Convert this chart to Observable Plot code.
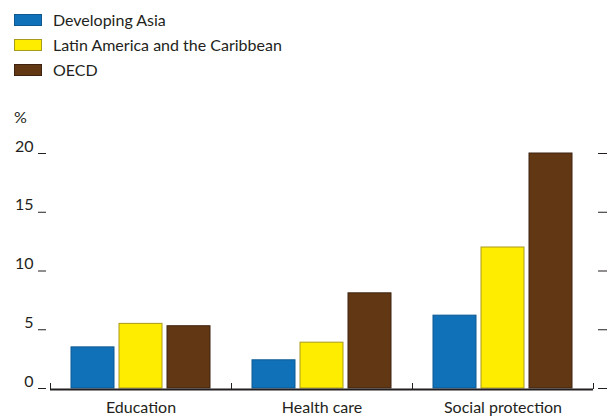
<!DOCTYPE html>
<html>
<head>
<meta charset="utf-8">
<script src="https://cdn.jsdelivr.net/npm/d3@7"></script>
<script src="https://cdn.jsdelivr.net/npm/@observablehq/plot@0.6"></script>
<style>
  body { margin: 0; background: #fff; font-family: Lato, "Open Sans", sans-serif; color: #231f20; }
  #legend { position: relative; height: 130px; width: 611px; }
  .row { position: absolute; left: 14px; display: flex; align-items: center; font-size: 16px; }
  .sw { width: 28px; height: 12px; margin-right: 11px; box-sizing: border-box; }
  #pct { position: absolute; left: 14px; top: 107px; font-size: 16px; }
</style>
</head>
<body>
<div id="legend"></div>
<div id="chart"></div>
<script>
const categories = ["Education", "Health care", "Social protection"];
const series = ["Developing Asia", "Latin America and the Caribbean", "OECD"];
const developingAsia = [3.5, 2.4, 6.2];
const latinAmerica = [5.5, 3.9, 12.0];
const oecd = [5.3, 8.1, 20.0];
const yTicks = [0, 5, 10, 15, 20];
const colors = ["#1071b9", "#ffed00", "#623814"];
const strokes = ["#0d5a92", "#a89a1c", "#3d2310"];

const valuesBySeries = [developingAsia, latinAmerica, oecd];
const data = [];
categories.forEach((c, i) => series.forEach((s, j) => data.push({category: c, series: s, value: valuesBySeries[j][i]})));

// Legend
const legend = document.getElementById("legend");
series.forEach((s, j) => {
  const row = document.createElement("div");
  row.className = "row";
  row.style.top = (10 + j * 25) + "px";
  row.innerHTML = `<div class="sw" style="background:${colors[j]};border:1px solid ${strokes[j]}"></div><span>${s}</span>`;
  legend.appendChild(row);
});
const pct = document.createElement("div");
pct.id = "pct"; pct.textContent = "%";
legend.appendChild(pct);

const chart = Plot.plot({
  width: 611,
  height: 287,
  marginTop: 23,
  marginBottom: 29,
  marginLeft: 50,
  marginRight: 18,
  style: {fontFamily: "Lato, 'Open Sans', sans-serif", fontSize: "16px", color: "#231f20"},
  fx: {domain: categories, padding: 0, label: null},
  x: {domain: series, paddingInner: 0.094, paddingOuter: 0.43, axis: null},
  y: {domain: [0, 20], axis: null},
  color: {domain: series, range: colors},
  marks: [
    Plot.barY(data, {fx: "category", x: "series", y: "value", fill: "series",
      stroke: d => strokes[series.indexOf(d.series)], strokeWidth: 1}),
    Plot.ruleY([0], {stroke: "#231f20", strokeWidth: 2, dy: 1}),
    Plot.frame({anchor: "left", insetTop: 230, stroke: "#231f20"}),
    Plot.frame({anchor: "right", insetTop: 230, stroke: "#231f20"}),
    Plot.axisY(yTicks, {anchor: "left", tickSize: 8, dx: -4, tickFormat: () => "", label: null, stroke: "#231f20"}),
    Plot.axisY(yTicks, {anchor: "left", tickSize: 0, tickPadding: 17, dy: -7, label: null, fill: "#231f20"}),
    Plot.axisY(yTicks, {anchor: "right", tickSize: 9, dx: 4, tickFormat: () => "", label: null, stroke: "#231f20"}),
    Plot.axisFx({anchor: "bottom", tickSize: 0, tickPadding: 13, label: null, fill: "#231f20"})
  ]
});
document.getElementById("chart").appendChild(chart);
</script>
</body>
</html>
